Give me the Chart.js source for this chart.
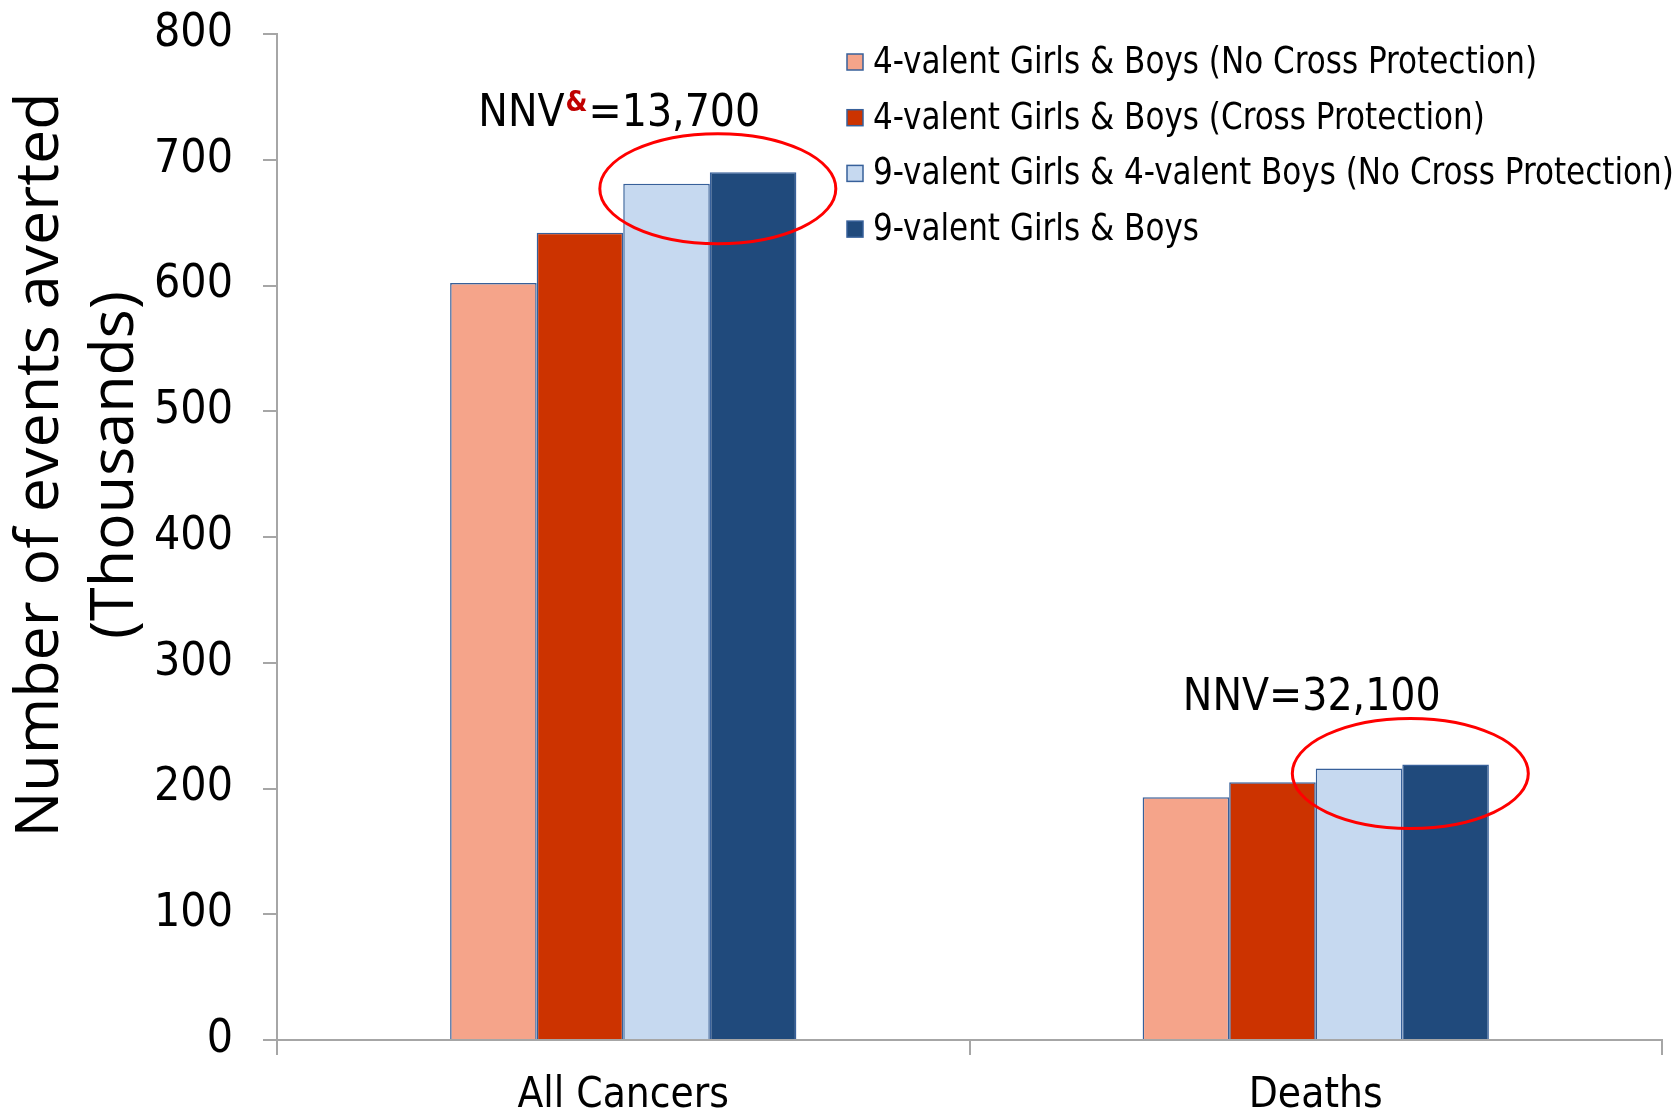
<!DOCTYPE html>
<html>
<head>
<meta charset="utf-8">
<script src="https://cdn.jsdelivr.net/npm/chart.js@4.4.1/dist/chart.umd.min.js"></script>
<style>
  html, body { margin: 0; padding: 0; background: #ffffff; }
  #wrap { width: 1679px; height: 1110px; position: relative; }
</style>
</head>
<body>
<div id="wrap"><canvas id="chart"></canvas></div>
<script>
//********************** data **********************
const categories = ['All Cancers', 'Deaths'];
const seriesNames = [
  '4-valent Girls & Boys (No Cross Protection)',
  '4-valent Girls & Boys (Cross Protection)',
  '9-valent Girls & 4-valent Boys (No Cross Protection)',
  '9-valent Girls & Boys'
];
const quadNoCross = [602, 193];
const quadCross = [642, 205];
const nonaGirlsQuadBoys = [681, 216];
const nonaAll = [690, 219];
const seriesColors = ['#F5A48A', '#CC3300', '#C6D9F0', '#204A7C'];
const yTicks = [0, 100, 200, 300, 400, 500, 600, 700, 800];
const yTitle = ['Number of events averted', '(Thousands)'];
// NNV notes over each group : text before, superscript, text after
const nnvPre = ['NNV', 'NNV'];
const nnvSup = ['&', ''];
const nnvPost = ['=13,700', '=32,100'];

const barBorder = '#37609A';
const axisGray = '#A6A6A6';
const narrow = 'DejaVu Sans Condensed';

//********************** plugins ****************************************
// y title drawn by hand so it can sit a bit above the middle like the original
const yTitlePlugin = {
  id: 'yTitle',
  afterDraw(chart) {
    const ctx = chart.ctx;
    ctx.save();
    ctx.fillStyle = '#000';
    ctx.font = '61px "Open Sans"';
    ctx.textAlign = 'center';
    ctx.textBaseline = 'middle';
    const cy = 465;
    [41, 116].forEach((x, i) => {
      ctx.save();
      ctx.translate(x, cy);
      ctx.rotate(-Math.PI / 2);
      ctx.fillText(yTitle[i], 0, 0);
      ctx.restore();
    });
    ctx.restore();
  }
};

// red ellipses round the two 9-valent bars, and the NNV notes
const notesPlugin = {
  id: 'notes',
  afterDatasetsDraw(chart) {
    const ctx = chart.ctx;
    const m2 = chart.getDatasetMeta(2).data;
    const m3 = chart.getDatasetMeta(3).data;
    const xs = chart.scales.x;
    ctx.save();
    categories.forEach((c, i) => {
      const cx = (m2[i].x + m3[i].x) / 2 + 8;
      const cy = m2[i].y + 5;
      ctx.beginPath();
      ctx.ellipse(cx, cy, 118, 55, 0, 0, Math.PI * 2);
      ctx.strokeStyle = '#FF0000';
      ctx.lineWidth = 3;
      ctx.stroke();

      // note text
      const base = cy - 63;
      const bigFont = '44px "' + narrow + '"';
      const supFont = 'bold 28px "' + narrow + '"';
      ctx.font = bigFont;
      const wPre = ctx.measureText(nnvPre[i]).width;
      const wPost = ctx.measureText(nnvPost[i]).width;
      ctx.font = supFont;
      const wSup = nnvSup[i] ? ctx.measureText(nnvSup[i]).width + 2 : 0;
      let x = xs.getPixelForValue(i) - 4 - (wPre + wSup + wPost) / 2;
      ctx.textAlign = 'left';
      ctx.textBaseline = 'alphabetic';
      ctx.font = bigFont;
      ctx.fillStyle = '#000';
      ctx.fillText(nnvPre[i], x, base);
      x += wPre;
      if (nnvSup[i]) {
        ctx.font = supFont;
        ctx.fillStyle = '#C00000';
        ctx.fillText(nnvSup[i], x + 1, base - 15);
        x += wSup;
      }
      ctx.font = bigFont;
      ctx.fillStyle = '#000';
      ctx.fillText(nnvPost[i], x, base);
    });
    ctx.restore();
  }
};

// legend in the top right corner, one row per series
// the original font is tall and narrow, so the text is squeezed a little
const legendPlugin = {
  id: 'rightLegend',
  afterDraw(chart) {
    const ctx = chart.ctx;
    ctx.save();
    ctx.font = '38px "' + narrow + '"';
    ctx.textBaseline = 'middle';
    ctx.textAlign = 'left';
    const squeeze = Math.min(1, 664 / ctx.measureText(seriesNames[0]).width);
    chart.data.datasets.forEach((ds, i) => {
      const y = 62 + i * 55.7;
      ctx.fillStyle = ds.backgroundColor;
      ctx.fillRect(847, y - 8, 16, 16);
      ctx.strokeStyle = barBorder;
      ctx.lineWidth = 1.5;
      ctx.strokeRect(847, y - 8, 16, 16);
      ctx.save();
      ctx.translate(873, y + 1);
      ctx.scale(squeeze, 1);
      ctx.fillStyle = '#000';
      ctx.fillText(ds.label, 0, 0);
      ctx.restore();
    });
    ctx.restore();
  }
};

//********************** chart ******************************************
const makeSet = (i, values) => ({
  label: seriesNames[i],
  data: values,
  backgroundColor: seriesColors[i],
  borderColor: barBorder,
  borderWidth: 1.5,
  categoryPercentage: 0.5,
  barPercentage: 1.0
});

new Chart(document.getElementById('chart'), {
  type: 'bar',
  data: {
    labels: categories,
    datasets: [
      makeSet(0, quadNoCross),
      makeSet(1, quadCross),
      makeSet(2, nonaGirlsQuadBoys),
      makeSet(3, nonaAll)
    ]
  },
  options: {
    responsive: true,
    maintainAspectRatio: false,
    animation: false,
    layout: { padding: { top: 34, right: 17, left: 0, bottom: 0 } },
    plugins: {
      legend: { display: false },
      tooltip: { enabled: false }
    },
    scales: {
      x: {
        grid: { offset: true, drawOnChartArea: false, drawTicks: true, tickLength: 15, color: axisGray, lineWidth: 2 },
        border: { color: axisGray, width: 2 },
        ticks: { color: '#000', font: { family: narrow, size: 42 }, padding: 16 },
        afterFit: (scale) => {
          scale.height = 70;
          scale.paddingLeft = 0;
          scale.paddingRight = 0;
        }
      },
      y: {
        min: 0,
        max: 800,
        afterBuildTicks: (scale) => { scale.ticks = yTicks.map(v => ({ value: v })); },
        grid: { drawOnChartArea: false, drawTicks: true, tickLength: 14, color: axisGray, lineWidth: 2 },
        border: { color: axisGray, width: 2 },
        ticks: { color: '#000', font: { family: narrow, size: 46 }, padding: 30 },
        afterFit: (scale) => {
          scale.width = 277;
          scale.paddingTop = 0;
          scale.paddingBottom = 0;
        }
      }
    }
  },
  plugins: [yTitlePlugin, notesPlugin, legendPlugin]
});
</script>
</body>
</html>
